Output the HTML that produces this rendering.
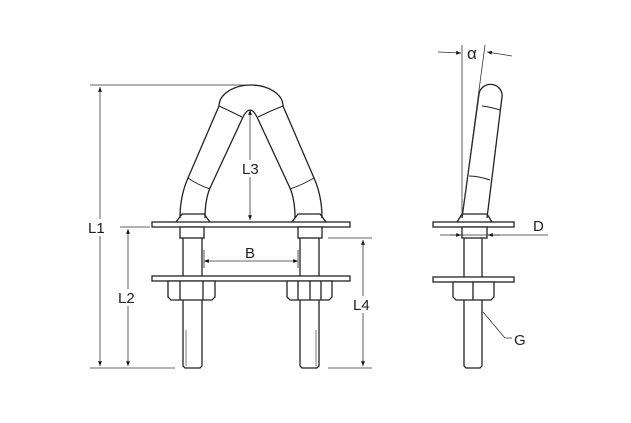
<!DOCTYPE html>
<html><head><style>html,body{margin:0;padding:0;background:#fff}svg{display:block}text{font-family:"Liberation Sans",sans-serif;font-size:15px;fill:#222}</style></head>
<body>
<svg width="631" height="423" viewBox="0 0 631 423" xmlns="http://www.w3.org/2000/svg">
<defs><marker id="a" viewBox="0 0 10 10" refX="10" refY="5" markerWidth="8" markerHeight="6" orient="auto-start-reverse"><path d="M0,1 L10,5 L0,9z" fill="#111"/></marker></defs>
<g stroke="#222" fill="none" stroke-width="1.3">
<!-- arch -->
<path d="M180,218 Q180,196 188,178 L219,106 A32,21 0 0 1 283,106 L314,178 Q322,196 322,218" fill="#fff"/>
<path d="M205,218 Q205,200 210,188 L243,117 Q250,103 257,117 L290,188 Q295,200 295,218"/>
<path d="M219,106 Q230,111 242,117 M258,117 Q270,111 283,106 M188,178 Q198,185 210,189 M290,189 Q302,185 314,178" stroke-width="1"/>
<path d="M176,222 L182,214 L204,214 L210,222 M292,222 L298,214 L320,214 L326,222"/>
<!-- plates -->
<rect x="152" y="222" width="198" height="5" fill="#fff"/>
<rect x="152" y="276" width="198" height="5" fill="#fff"/>
<!-- rods -->
<rect x="180" y="227" width="24" height="11" fill="#fff"/>
<rect x="298" y="227" width="24" height="11" fill="#fff"/>
<path d="M183,238 V276 M202,238 V276 M300,238 V276 M319,238 V276"/>
<path d="M183,300 V366 L185,368 H200 L202,366 V300 M300,300 V366 L302,368 H317 L319,366 V300"/>
<path d="M186,330 V366 M316,330 V366" stroke-width="0.6"/>
<!-- nuts -->
<path d="M168,281 H215 V297 L212,300 H171 L168,297Z M180,281 V300 M203,281 V300" fill="#fff"/>
<path d="M287,281 H332 V297 L329,300 H290 L287,297Z M298,281 V300 M321,281 V300 M310,281 V300" fill="#fff"/>
</g>
<!-- dimensions front -->
<g stroke="#333" stroke-width="0.8" fill="none">
<path d="M90,85 H250 M90,368 H175 M120,227 H150 M328,238 H372 M328,368 H372 M204,250 V268 M298,250 V268"/>
<line x1="100" y1="87" x2="100" y2="366" marker-start="url(#a)" marker-end="url(#a)"/>
<line x1="128" y1="229" x2="128" y2="366" marker-start="url(#a)" marker-end="url(#a)"/>
<line x1="363" y1="240" x2="363" y2="366" marker-start="url(#a)" marker-end="url(#a)"/>
<line x1="250" y1="110" x2="250" y2="220" marker-start="url(#a)" marker-end="url(#a)"/>
<line x1="204" y1="261" x2="298" y2="261" marker-start="url(#a)" marker-end="url(#a)"/>
</g>
<rect x="87" y="219" width="22" height="17" fill="#fff"/><text x="88" y="233">L1</text>
<rect x="117" y="289" width="22" height="17" fill="#fff"/><text x="118" y="303">L2</text>
<rect x="352" y="296" width="22" height="17" fill="#fff"/><text x="353" y="310">L4</text>
<rect x="241" y="160" width="22" height="17" fill="#fff"/><text x="242" y="174">L3</text>
<text x="245" y="258">B</text>
<!-- side view -->
<g stroke="#222" fill="none" stroke-width="1.3">
<path d="M462,218 L479,94 A11.5,11 0 0 1 502,97 L487,218" fill="#fff"/>
<path d="M482,106 Q491,107 500,110 M469,176 Q478,176 490,180" stroke-width="1"/>
<path d="M457,222 L462,214 H487 L492,222"/>
<rect x="433" y="222" width="81" height="5" fill="#fff"/>
<rect x="433" y="277" width="81" height="5" fill="#fff"/>
<rect x="462" y="227" width="25" height="11" fill="#fff"/>
<path d="M464,238 V277 M482,238 V277 M464,300 V366 L466,368 H480 L482,366 V300"/>
<path d="M453,282 H494 V297 L491,300 H456 L453,297Z M473,282 V300" fill="#fff"/>
</g>
<g stroke="#333" stroke-width="0.8" fill="none">
<path d="M462,45 V218 M485,45 L462,218 M440,235 H548"/>
<line x1="438" y1="52" x2="461" y2="53" marker-end="url(#a)"/>
<line x1="512" y1="56" x2="487" y2="52" marker-end="url(#a)"/>
<line x1="450" y1="235" x2="461" y2="235" marker-end="url(#a)"/>
<line x1="500" y1="235" x2="488" y2="235" marker-end="url(#a)"/>
<path d="M483,312 L505,338 H512"/>
</g>
<text x="467" y="59" style="font-size:17px">α</text>
<text x="533" y="231">D</text>
<text x="514" y="345">G</text>
</svg>
</body></html>
